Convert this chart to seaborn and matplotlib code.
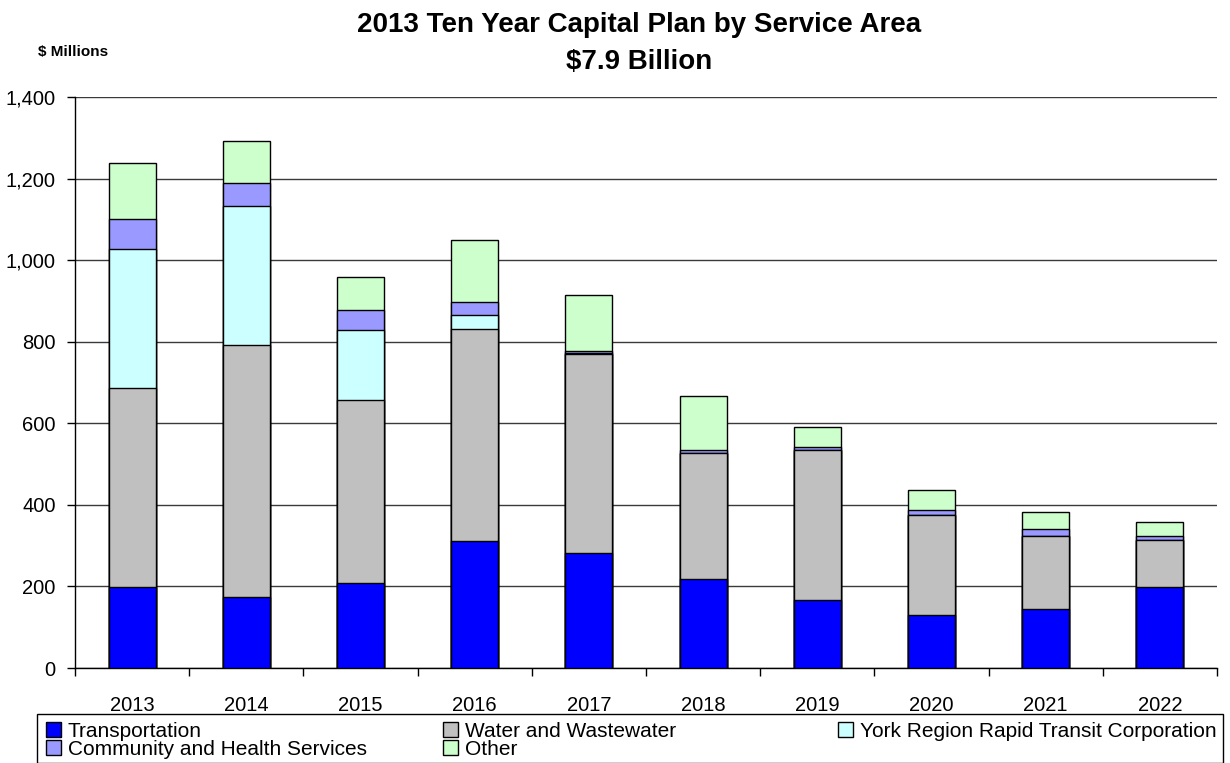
import matplotlib
matplotlib.use("Agg")
import matplotlib.pyplot as plt
from matplotlib.patches import Patch, Rectangle
import numpy as np
import pandas as pd
import seaborn as sns

# Capital plan by service area, $ millions
years = ["2013", "2014", "2015", "2016", "2017", "2018", "2019", "2020", "2021", "2022"]
transportation = [199, 174, 209, 311, 281, 219, 166, 131, 145, 198]
water_wastewater = [487, 618, 448, 520, 489, 309, 368, 244, 179, 116]
rapid_transit = [341, 340, 171, 34, 2, 0, 0, 0, 0, 0]
community_health = [74, 57, 50, 32, 5, 6, 8, 12, 16, 10]
other = [136, 102, 80, 152, 137, 134, 50, 49, 42, 34]

series_names = [
    "Transportation",
    "Water and Wastewater",
    "York Region Rapid Transit Corporation",
    "Community and Health Services",
    "Other",
]
series_values = [transportation, water_wastewater, rapid_transit, community_health, other]
series_colors = ["#0000FF", "#C0C0C0", "#CCFFFF", "#9999FF", "#CCFFCC"]

y_ticks = [0, 200, 400, 600, 800, 1000, 1200, 1400]

sns.set_theme(style="white")
plt.rcParams["font.family"] = ["Liberation Sans", "DejaVu Sans"]
plt.rcParams["text.color"] = "black"
plt.rcParams["xtick.color"] = "black"
plt.rcParams["ytick.color"] = "black"

W, H = 1230, 763
fig = plt.figure(figsize=(W / 100, H / 100), dpi=100)
ax = fig.add_axes([75 / W, 1 - 668 / H, (1217 - 75) / W, (668 - 97) / H])

# Stacked bars: draw cumulative totals from the top layer downwards
cum = np.cumsum(np.array(series_values, dtype=float), axis=0)
for i in range(len(series_names) - 1, -1, -1):
    df = pd.DataFrame({"year": years, "value": cum[i]})
    sns.barplot(data=df, x="year", y="value", order=years, color=series_colors[i],
                saturation=1, width=0.41, edgecolor="black", linewidth=1.0,
                ax=ax, zorder=3)

ax.set_xlim(-0.5, len(years) - 0.5)
ax.set_ylim(0, 1400)
ax.set_yticks(y_ticks)
ax.set_yticklabels([f"{v:,}" for v in y_ticks])
ax.set_xlabel("")
ax.set_ylabel("")

# Gridlines
ax.yaxis.grid(True, color="#3a3a3a", linewidth=1.0, zorder=0)
ax.xaxis.grid(False)
ax.set_axisbelow(True)

# Spines
for side in ["top", "right"]:
    ax.spines[side].set_visible(False)
for side in ["left", "bottom"]:
    ax.spines[side].set_visible(True)
    ax.spines[side].set_color("black")
    ax.spines[side].set_linewidth(1.0)

# Category boundary ticks on the x axis
ax.set_xticks(np.arange(-0.5, len(years), 1.0), minor=True)
ax.tick_params(axis="x", which="minor", bottom=True, length=6, width=1, color="black", direction="out")
ax.tick_params(axis="x", which="major", bottom=True, length=0, pad=20, labelsize=14.5, labelcolor="black")
ax.tick_params(axis="y", which="major", left=True, length=6, width=1, color="black",
               direction="out", pad=8, labelsize=14.5, labelcolor="black")

# Titles
fig.text(639 / W, 1 - 25 / H, "2013 Ten Year Capital Plan by Service Area",
         ha="center", va="center", fontsize=20, fontweight="bold", color="black")
fig.text(639 / W, 1 - 62 / H, "$7.9 Billion",
         ha="center", va="center", fontsize=20, fontweight="bold", color="black")
fig.text(38 / W, 1 - 52 / H, "$ Millions", ha="left", va="center",
         fontsize=11, fontweight="bold", color="black")

# Legend: one frame, three columns laid out in rows (T, W, Y / C, O)
handles = [Patch(facecolor=c, edgecolor="black", linewidth=1.0) for c in series_colors]
columns = [[0, 3], [1, 4], [2]]
column_x = [46, 443, 838]
for col, x0 in zip(columns, column_x):
    fig.legend([handles[k] for k in col], [series_names[k] for k in col],
               loc="upper left", bbox_to_anchor=(x0 / W, 1 - 722 / H),
               fontsize=15, frameon=False, borderpad=0.0, labelspacing=-0.05,
               handlelength=0.7, handleheight=0.7, handletextpad=0.35,
               borderaxespad=0)
fig.patches.append(Rectangle((37 / W, 0), (1223 - 37) / W, (H - 714) / H,
                             transform=fig.transFigure, fill=False,
                             edgecolor="black", linewidth=1.0, zorder=0))

fig.savefig("out.png", dpi=100, facecolor="white")
